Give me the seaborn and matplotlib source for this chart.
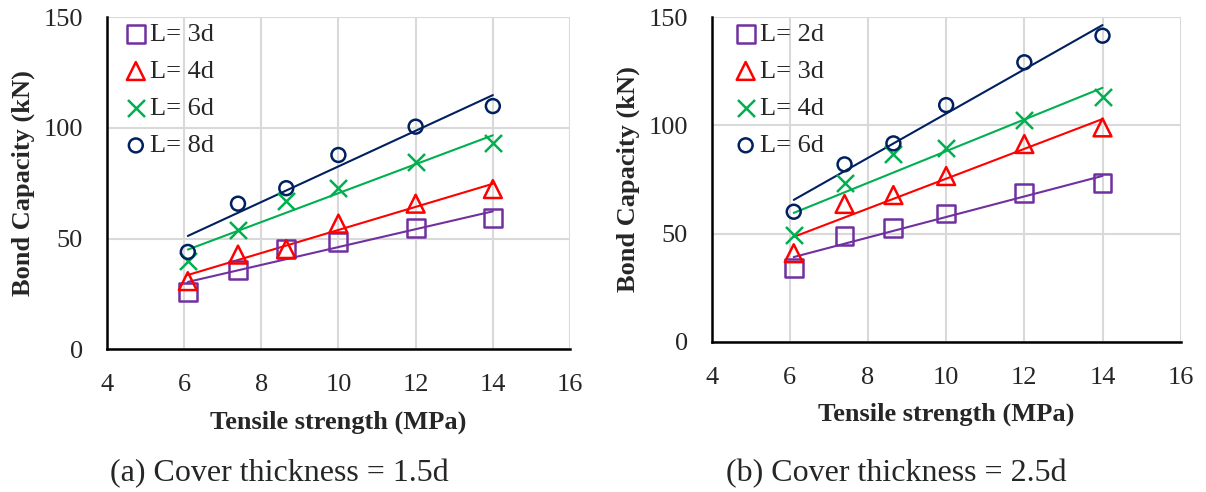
import matplotlib
matplotlib.use("Agg")
import matplotlib.pyplot as plt
import numpy as np
import pandas as pd
import seaborn as sns

# tensile strength (MPa) of the tested mixes
tensile = [6.1, 7.4, 8.65, 10.0, 12.0, 14.0]

# (a) cover thickness = 1.5d, bond capacity (kN)
a_labels = ["L= 3d", "L= 4d", "L= 6d", "L= 8d"]
a_3d = [25.8, 36.0, 45.3, 48.5, 54.8, 59.3]
a_4d = [30.8, 42.8, 45.3, 56.8, 65.8, 72.4]
a_6d = [39.8, 54.0, 66.8, 72.8, 84.8, 93.0]
a_8d = [44.0, 65.8, 72.8, 87.8, 100.6, 109.9]

# (b) cover thickness = 2.5d, bond capacity (kN)
b_labels = ["L= 2d", "L= 3d", "L= 4d", "L= 6d"]
b_2d = [33.9, 48.9, 52.7, 59.3, 68.9, 73.5]
b_3d = [40.9, 63.7, 67.8, 76.6, 91.4, 99.1]
b_4d = [49.3, 73.5, 86.8, 89.7, 102.5, 113.3]
b_6d = [60.1, 82.0, 91.7, 109.4, 129.2, 141.5]

colors = ["#7030A0", "#FF0000", "#00B050", "#002060"]
markers = ["s", "^", "x", "o"]
sizes = [165, 165, 150, 100]

sns.set_style("whitegrid", {"grid.color": "#D9D9D9", "axes.edgecolor": "black"})
plt.rcParams["font.family"] = ["Liberation Serif", "DejaVu Serif"]


def draw_panel(ax, series, labels, legend_anchor):
    for ys, label, c, m, s in zip(series, labels, colors, markers, sizes):
        df = pd.DataFrame({"x": tensile, "y": ys})
        sns.regplot(data=df, x="x", y="y", ci=None, scatter=False, color=c,
                    line_kws={"lw": 1.5, "zorder": 2}, ax=ax)
        kws = dict(marker=m, s=s, color=c, linewidth=1.8, label=label, zorder=3)
        if m != "x":
            kws.update(facecolor="none", edgecolor=c)
        sns.scatterplot(data=df, x="x", y="y", ax=ax, **kws)

    ax.set_xlim(4, 16)
    ax.set_ylim(0, 150)
    ax.set_xticks(np.arange(4, 17, 2))
    ax.set_yticks([0, 50, 100, 150])
    ax.grid(True, color="#D9D9D9", lw=1.5)
    ax.set_axisbelow(True)
    for side in ["top", "right"]:
        ax.spines[side].set_visible(False)
    for side in ["left", "bottom"]:
        ax.spines[side].set_color("black")
        ax.spines[side].set_linewidth(1.8)
        ax.spines[side].set_zorder(4)
    ax.tick_params(length=0, labelsize=19)
    ax.tick_params(axis="x", pad=18)
    ax.tick_params(axis="y", pad=17)
    ax.set_xlabel("Tensile strength (MPa)", fontsize=19, fontweight="bold", labelpad=10)
    ax.set_ylabel("Bond Capacity (kN)", fontsize=19, fontweight="bold", labelpad=6)

    handles, labs = ax.get_legend_handles_labels()
    ax.legend(handles, labs, loc="upper left", bbox_to_anchor=legend_anchor,
              frameon=False, fontsize=19, handlelength=0.8, handletextpad=0.15,
              labelspacing=0.52, borderpad=0, borderaxespad=0, markerscale=1.0)


fig = plt.figure(figsize=(12.06, 4.92), dpi=100)
ax_a = fig.add_axes([0.0885, 0.2900, 0.3842, 0.6748])
ax_b = fig.add_axes([0.5901, 0.3055, 0.3889, 0.6593])

draw_panel(ax_a, [a_3d, a_4d, a_6d, a_8d], a_labels, (0.04, 0.985))
draw_panel(ax_b, [b_2d, b_3d, b_4d, b_6d], b_labels, (0.05, 0.985))

fig.text(279 / 1206, 1 - 474 / 492, "(a) Cover thickness = 1.5d", fontsize=23,
         ha="center", va="center")
fig.text(896 / 1206, 1 - 474 / 492, "(b) Cover thickness = 2.5d", fontsize=23,
         ha="center", va="center")

fig.savefig("out.png", dpi=100)
plt.close(fig)
